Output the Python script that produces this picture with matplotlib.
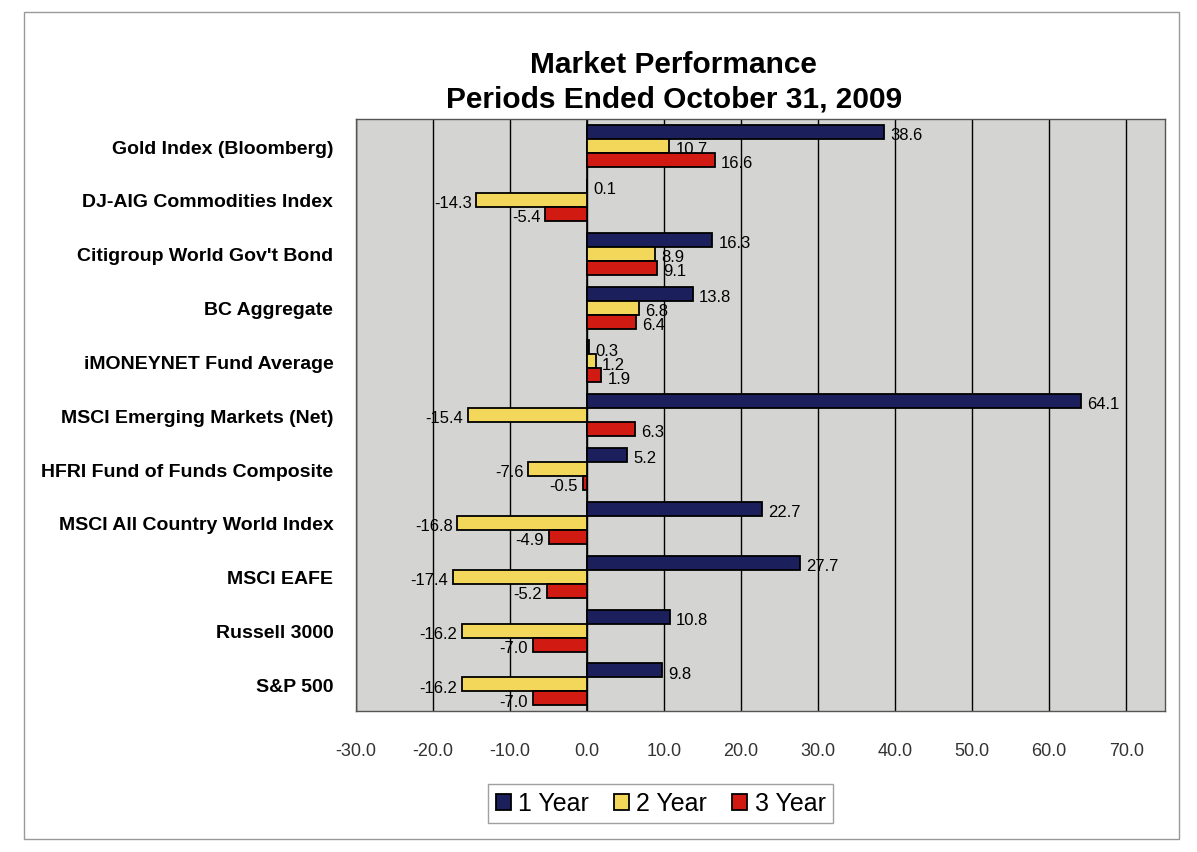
import numpy as np
import matplotlib.pyplot as plt
from matplotlib.patches import Rectangle

plt.rcParams["font.family"] = ["Liberation Sans", "DejaVu Sans"]

categories = ["Gold Index (Bloomberg)", "DJ-AIG Commodities Index", "Citigroup World Gov't Bond",
              "BC Aggregate", "iMONEYNET Fund Average", "MSCI Emerging Markets (Net)",
              "HFRI Fund of Funds Composite", "MSCI All Country World Index", "MSCI EAFE",
              "Russell 3000", "S&P 500"]
one_year = [38.6, 0.1, 16.3, 13.8, 0.3, 64.1, 5.2, 22.7, 27.7, 10.8, 9.8]
two_year = [10.7, -14.3, 8.9, 6.8, 1.2, -15.4, -7.6, -16.8, -17.4, -16.2, -16.2]
three_year = [16.6, -5.4, 9.1, 6.4, 1.9, 6.3, -0.5, -4.9, -5.2, -7.0, -7.0]
series_names = ["1 Year", "2 Year", "3 Year"]
colors = ["#1b1f5c", "#f3d75a", "#d01a12"]
xticks = np.arange(-30, 71, 10)

fig = plt.figure(figsize=(11.97, 8.53), dpi=100)
ax = fig.add_axes([0.297, 0.165, 0.676, 0.694])
ax.set_facecolor("#d4d4d2")

y = np.arange(len(categories))
h = 0.26
for i, (vals, name, c) in enumerate(zip([one_year, two_year, three_year], series_names, colors)):
    ypos = y + (i - 1) * h
    ax.barh(ypos, vals, height=h, color=c, edgecolor="black", linewidth=1.3, label=name, zorder=3)
    for yy, v in zip(ypos, vals):
        if v >= 0:
            ax.text(v + 0.8, yy + 0.05, f"{v:.1f}", ha="left", va="center", fontsize=12, zorder=4)
        else:
            ax.text(v - 0.6, yy + 0.05, f"{v:.1f}", ha="right", va="center", fontsize=12, zorder=4)

ax.set_ylim(len(categories) - 0.5, -0.5)
ax.set_xlim(-30, 75)
ax.set_xticks(xticks)
ax.set_xticklabels([f"{t:.1f}" for t in xticks], fontsize=13, color="#333333")
ax.tick_params(axis="x", length=0, pad=22)
ax.set_yticks(y)
ax.set_yticklabels(categories, fontsize=14, fontweight="bold")
ax.tick_params(axis="y", length=0, pad=16)
ax.grid(axis="x", color="black", linewidth=1.0, zorder=1)
ax.axvline(0, color="black", linewidth=1.2, zorder=2)
for s in ax.spines.values():
    s.set_linewidth(1.0)
    s.set_color("#555555")

fig.text(0.563, 0.904, "Market Performance\nPeriods Ended October 31, 2009", ha="center", va="center",
         fontsize=21.5, fontweight="bold", linespacing=1.3)

leg = fig.legend(loc="center", bbox_to_anchor=(0.552, 0.057), ncol=3, fontsize=18,
                 frameon=True, fancybox=False, edgecolor="#888888", handlelength=0.6,
                 handleheight=0.6, handletextpad=0.3, columnspacing=1.0, borderpad=0.3)

fig.add_artist(Rectangle((0.02, 0.015), 0.965, 0.97, transform=fig.transFigure,
                         fill=False, edgecolor="#999999", linewidth=1.0))

fig.savefig("out.png", dpi=100)
